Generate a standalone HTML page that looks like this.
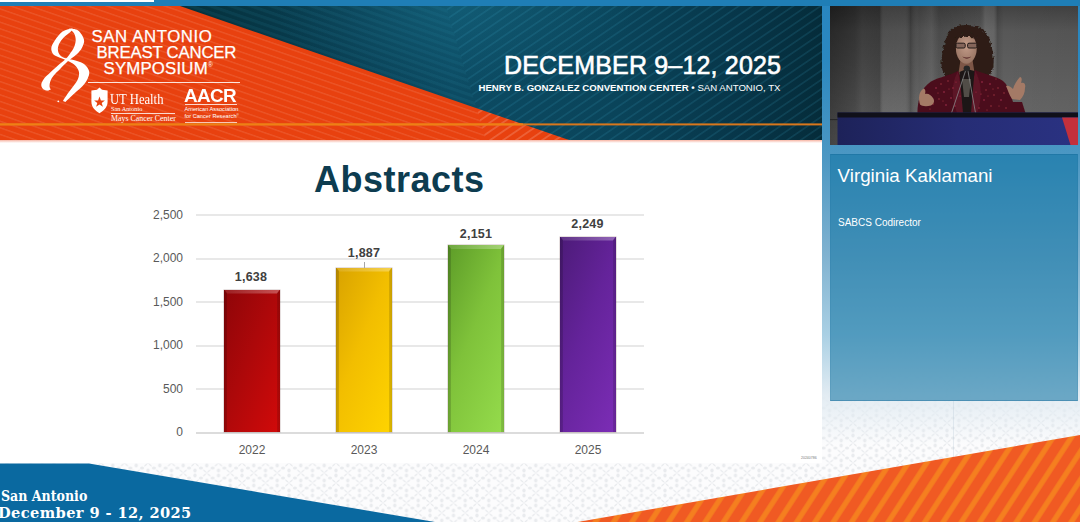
<!DOCTYPE html>
<html lang="en">
<head>
<meta charset="utf-8">
<title>SABCS 2025 - Abstracts</title>
<style>
*{margin:0;padding:0;box-sizing:border-box}
html,body{width:1080px;height:522px;overflow:hidden;background:#fff}
body{font-family:"Liberation Sans",Arial,sans-serif;position:relative}
#stage{position:absolute;left:0;top:0;width:1080px;height:522px;overflow:hidden;background:#fcfcfd}
.abs{position:absolute}
/* page background pattern */
#pattern{left:0;top:0;width:1080px;height:522px}
/* sidebar gradient */
#sidegrad{left:822px;top:0;width:258px;height:470px;
  background:linear-gradient(to bottom,#2886c0 0px,#2b88c0 60px,#4d98c3 160px,#80b2d0 255px,#aad0e4 335px,rgba(225,235,242,.95) 395px,rgba(252,252,253,0) 445px)}
#topbar{left:0;top:0;width:1080px;height:6px;background:#1f7eb6}
#topwhite{left:0;top:0;width:153.5px;height:1.5px;background:#fff}
/* slide */
#slide{left:0;top:6px;width:822px;height:457px;background:#fff}
#banner{left:0;top:0;width:822px;height:134px;overflow:hidden;background:#0a3a4c}
#bannerglow{left:0;top:134px;width:822px;height:3px;background:linear-gradient(to bottom,rgba(240,120,90,.55),rgba(255,255,255,0))}
.w{color:#fff;white-space:nowrap;line-height:1}

.lg{font-size:16.8px;letter-spacing:.2px;-webkit-text-stroke:.25px #fff}
.sf{font-family:"Liberation Serif","DejaVu Serif",serif}
/* chart */
.yl{position:absolute;width:60px;text-align:right;font-size:12px;color:#595959;line-height:12px;white-space:nowrap}
.xl{position:absolute;width:60px;text-align:center;font-size:12px;color:#595959;line-height:12px}
.vl{position:absolute;width:60px;text-align:center;font-size:12.5px;letter-spacing:.2px;font-weight:bold;color:#404040;line-height:12px}
.grid{position:absolute;left:196px;width:448px;height:1.6px;margin-top:.2px;background:#e8e8e8}
.bar{position:absolute;width:56px}

.bar{box-shadow:0 0 0 .5px rgba(60,0,0,.25)}
.bar:before{content:"";position:absolute;left:0;top:0;right:0;height:4px;clip-path:polygon(0 0,100% 0,calc(100% - 3px) 100%,3px 100%);background:linear-gradient(to right,rgba(255,255,255,.10),rgba(255,255,255,.30))}
.bar:after{content:"";position:absolute;left:0;top:0;bottom:0;right:0;background:linear-gradient(to right,rgba(0,0,0,.20) 0,rgba(0,0,0,.14) 3px,rgba(0,0,0,0) 3.5px,rgba(0,0,0,0) calc(100% - 3.5px),rgba(0,0,0,.12) calc(100% - 3px),rgba(0,0,0,.18) 100%);clip-path:polygon(0 0,3.5px 4px,calc(100% - 3.5px) 4px,100% 0,100% 100%,0 100%)}
.b1{background:linear-gradient(112deg,#8e0508 0%,#ac080a 45%,#d20a0a 100%)}
.b2{background:linear-gradient(112deg,#d8a200 0%,#f2be00 45%,#ffd400 100%)}
.b3{background:linear-gradient(112deg,#5d9c28 0%,#7fc23a 45%,#95dc4c 100%)}
.b4{background:linear-gradient(112deg,#4c1b78 0%,#64239a 45%,#7c2db6 100%)}
/* video + panel */
#video{left:830px;top:6px;width:248px;height:139px;overflow:hidden;background:#4c4c4c}
#panel{left:830px;top:154px;width:248px;height:247px;background:rgba(17,116,163,.577);border:1px solid rgba(17,100,150,.35);border-left-color:rgba(17,100,150,.12);border-right-color:rgba(17,100,150,.12)}
#pname{left:837.6px;top:167px;font-size:18.75px}
#prole{left:838px;top:217.8px;font-size:10px}
/* bottom */
#bl1{left:1px;top:488.8px;font-family:"DejaVu Serif Condensed","DejaVu Serif","Liberation Serif",serif;font-weight:bold;font-size:14px}
#bl2{left:-2px;top:506.3px;font-family:"DejaVu Serif","Liberation Serif",serif;font-weight:bold;font-size:14.6px;letter-spacing:.4px}
</style>
</head>
<body>
<div id="stage">
  <svg id="pattern" class="abs" width="1080" height="522" viewBox="0 0 1080 522">
    <defs>
      <pattern id="dmk" width="23.5" height="20" patternUnits="userSpaceOnUse" patternTransform="translate(7 3)">
        <rect width="23.5" height="20" fill="#fcfcfd"/>
        <g fill="#e9ebee">
          <path d="M0 0 C-.9 -2 -2.8 -3.6 -3.8 -3.4 C-4 -2.4 -2.2 -.8 0 0 C2.2 -.8 4 -2.4 3.8 -3.4 C2.8 -3.6 .9 -2 0 0 C-.9 2 -2.8 3.6 -3.8 3.4 C-4 2.4 -2.2 .8 0 0 C2.2 .8 4 2.4 3.8 3.4 C2.8 3.6 .9 2 0 0Z"/>
          <path transform="translate(23.5 0)" d="M0 0 C-.9 -2 -2.8 -3.6 -3.8 -3.4 C-4 -2.4 -2.2 -.8 0 0 C2.2 -.8 4 -2.4 3.8 -3.4 C2.8 -3.6 .9 -2 0 0 C-.9 2 -2.8 3.6 -3.8 3.4 C-4 2.4 -2.2 .8 0 0 C2.2 .8 4 2.4 3.8 3.4 C2.8 3.6 .9 2 0 0Z"/><path transform="translate(0 20)" d="M0 0 C-.9 -2 -2.8 -3.6 -3.8 -3.4 C-4 -2.4 -2.2 -.8 0 0 C2.2 -.8 4 -2.4 3.8 -3.4 C2.8 -3.6 .9 -2 0 0 C-.9 2 -2.8 3.6 -3.8 3.4 C-4 2.4 -2.2 .8 0 0 C2.2 .8 4 2.4 3.8 3.4 C2.8 3.6 .9 2 0 0Z"/><path transform="translate(23.5 20)" d="M0 0 C-.9 -2 -2.8 -3.6 -3.8 -3.4 C-4 -2.4 -2.2 -.8 0 0 C2.2 -.8 4 -2.4 3.8 -3.4 C2.8 -3.6 .9 -2 0 0 C-.9 2 -2.8 3.6 -3.8 3.4 C-4 2.4 -2.2 .8 0 0 C2.2 .8 4 2.4 3.8 3.4 C2.8 3.6 .9 2 0 0Z"/><path transform="translate(11.75 10)" d="M0 0 C-.9 -2 -2.8 -3.6 -3.8 -3.4 C-4 -2.4 -2.2 -.8 0 0 C2.2 -.8 4 -2.4 3.8 -3.4 C2.8 -3.6 .9 -2 0 0 C-.9 2 -2.8 3.6 -3.8 3.4 C-4 2.4 -2.2 .8 0 0 C2.2 .8 4 2.4 3.8 3.4 C2.8 3.6 .9 2 0 0Z"/>
          <ellipse cx="11.75" cy="2.6" rx="1.6" ry="2"/><ellipse cx="11.75" cy="17.4" rx="1.6" ry="2"/>
          <ellipse cx="0" cy="12.6" rx="1.6" ry="2"/><ellipse cx="23.5" cy="12.6" rx="1.6" ry="2"/><ellipse cx="0" cy="7.4" rx="1.6" ry="2"/><ellipse cx="23.5" cy="7.4" rx="1.6" ry="2"/>
          <ellipse cx="5.9" cy="5" rx="2" ry="1.5"/><ellipse cx="17.6" cy="5" rx="2" ry="1.5"/><ellipse cx="5.9" cy="15" rx="2" ry="1.5"/><ellipse cx="17.6" cy="15" rx="2" ry="1.5"/>
        </g>
      </pattern>
      <filter id="pblur" x="0" y="0" width="100%" height="100%"><feGaussianBlur stdDeviation=".55"/></filter>
    </defs>
    <rect width="1080" height="522" fill="url(#dmk)" filter="url(#pblur)"/>
  </svg>
  <div id="sidegrad" class="abs"></div>
  <div class="abs" style="left:953px;top:401px;width:1px;height:60px;background:rgba(150,175,195,.2)"></div>
  <div id="topbar" class="abs"></div>
  <div id="topwhite" class="abs"></div>

  <div id="slide" class="abs">
    <div id="banner" class="abs">
      <svg class="abs" style="left:0;top:0" width="822" height="134" viewBox="0 6 822 134">
        <defs>
          <linearGradient id="tealg" x1="0" y1="0" x2="1" y2="0">
            <stop offset="0" stop-color="#04303c"/><stop offset=".24" stop-color="#05323e"/><stop offset=".42" stop-color="#093e52"/><stop offset=".55" stop-color="#0c4b63"/><stop offset=".75" stop-color="#0a445a"/><stop offset=".9" stop-color="#073649"/><stop offset="1" stop-color="#052c3a"/>
          </linearGradient>
          <radialGradient id="tealglow" cx="455" cy="6" r="120" gradientUnits="userSpaceOnUse" gradientTransform="translate(455 6) scale(1.5 .7) translate(-455 -6)">
            <stop offset="0" stop-color="#1b7792" stop-opacity=".36"/><stop offset="1" stop-color="#1b7792" stop-opacity="0"/>
          </radialGradient>
          <pattern id="tl" width="60" height="7.7" patternUnits="userSpaceOnUse" patternTransform="matrix(1 .343 .3 1 444 1.5)">
            <rect x="0" y="0" width="60" height="3.6" fill="#2b90b0" fill-opacity=".11"/>
          </pattern>
          <pattern id="tr" width="60" height="7.7" patternUnits="userSpaceOnUse" patternTransform="matrix(1 -.68 .3 1 444 1.5)">
            <rect x="0" y="0" width="60" height="1.7" fill="#3aa6c6" fill-opacity=".15"/>
          </pattern>
          <pattern id="ol" width="60" height="7.36" patternUnits="userSpaceOnUse" patternTransform="matrix(1 .343 .3 1 444 2)">
            <rect x="0" y="0" width="60" height="1.6" fill="#fff" fill-opacity=".10"/>
          </pattern>
          <pattern id="or" width="60" height="7.36" patternUnits="userSpaceOnUse" patternTransform="matrix(1 -.68 .3 1 444 2)">
            <rect x="0" y="0" width="60" height="1.8" fill="#fff" fill-opacity=".17"/>
          </pattern>
          <clipPath id="oclip"><polygon points="0,6 180,6 569,140 0,140"/></clipPath>
        </defs>
        <rect x="0" y="6" width="822" height="134" fill="url(#tealg)"/>
        <rect x="0" y="6" width="822" height="134" fill="url(#tealglow)"/>
        <polygon points="0,6 445.8,6 486,140 0,140" fill="url(#tl)"/>
        <polygon points="445.8,6 822,6 822,140 486,140" fill="url(#tr)"/>
        <g clip-path="url(#oclip)">
          <rect x="0" y="6" width="600" height="134" fill="#e8410f"/>
          <polygon points="0,6 445.8,6 486,140 0,140" fill="url(#ol)"/>
          <polygon points="445.8,6 822,6 822,140 486,140" fill="url(#or)"/>
        </g>
        <rect x="0" y="123.4" width="822" height="2" fill="#d9771c"/>
        <rect x="0" y="123.4" width="523" height="2" fill="#f07f14"/>
      </svg>
    </div>

    <!-- banner text / logos (coords relative to slide: page y - 6) -->
    <svg class="abs" style="left:36px;top:18px" width="60" height="84" viewBox="36 24 60 84">
      <g fill="#fff">
        <path d="M72.7 28.2 C71.0 28.7 65.6 29.4 62.5 31.6 C59.5 33.7 56.4 38.1 54.5 40.9 C52.6 43.7 51.5 45.9 51.3 48.1 C51.1 50.4 51.9 52.7 53.2 54.2 C54.6 55.8 57.2 56.5 59.3 57.5 C61.5 58.4 64.0 59.2 66.2 60.2 C68.5 61.2 70.8 62.2 72.7 63.6 C74.6 64.9 76.4 66.7 77.5 68.4 C78.6 70.1 79.1 71.6 79.1 73.5 C79.1 75.5 78.6 77.7 77.5 80.0 C76.4 82.2 74.4 84.7 72.7 87.1 C71.0 89.4 69.0 91.8 67.4 94.1 C65.8 96.4 63.7 99.8 63.0 100.9 L65.4 101.9 C67.0 100.4 71.7 96.0 74.6 93.3 C77.5 90.7 80.5 88.5 82.6 86.1 C84.8 83.7 86.4 81.4 87.5 79.0 C88.6 76.6 89.7 74.0 89.2 71.6 C88.8 69.2 86.7 66.4 84.6 64.5 C82.4 62.7 79.3 61.7 76.2 60.7 C73.1 59.6 68.4 59.2 65.8 58.3 C63.1 57.3 61.4 56.6 60.1 55.2 C58.8 53.8 58.0 51.7 57.9 49.7 C57.7 47.8 58.4 45.7 59.3 43.6 C60.3 41.6 61.8 39.5 63.7 37.5 C65.5 35.5 69.1 33.3 70.6 31.7 C72.1 30.2 72.3 28.8 72.7 28.2Z"/>
        <path d="M69.0 28.5 C70.5 28.8 75.6 28.6 78.1 30.4 C80.6 32.2 83.2 36.6 83.9 39.3 C84.7 42.0 83.5 44.3 82.6 46.5 C81.8 48.7 80.2 50.7 78.6 52.5 C77.0 54.3 74.8 55.8 73.0 57.3 C71.1 58.8 69.7 59.7 67.5 61.6 C65.4 63.6 62.4 66.7 60.1 69.0 C57.8 71.3 55.3 73.5 53.7 75.5 C52.1 77.5 51.2 79.2 50.5 80.9 C49.8 82.7 49.5 84.5 49.5 85.9 C49.6 87.4 50.6 89.0 50.8 89.6 L50.8 89.6 C50.2 89.8 48.6 90.8 47.3 90.6 C45.9 90.4 43.7 89.7 42.8 88.7 C41.8 87.6 41.1 86.0 41.3 84.3 C41.5 82.7 42.5 80.7 44.0 78.7 C45.6 76.7 48.1 74.5 50.5 72.3 C52.8 70.0 55.8 67.2 58.2 65.2 C60.6 63.1 62.7 61.9 64.6 60.0 C66.6 58.2 68.2 56.0 69.8 53.9 C71.3 51.8 73.0 49.6 74.0 47.3 C75.0 45.0 75.7 42.4 75.7 40.1 C75.7 37.8 75.1 35.3 74.0 33.3 C72.8 31.4 69.8 29.3 69.0 28.5Z"/>
        <circle cx="58.3" cy="101.3" r=".9"/>
      </g>
    </svg>
    <div class="abs w lg" style="left:91.5px;top:22.5px;letter-spacing:.6px">SAN ANTONIO</div>
    <div class="abs w lg" style="left:96.5px;top:38.8px;letter-spacing:-.2px">BREAST CANCER</div>
    <div class="abs w lg" style="left:103.5px;top:55px">SYMPOSIUM<span style="font-size:6.5px;vertical-align:7px;letter-spacing:0;-webkit-text-stroke:0">&#174;</span></div>
    <div class="abs" style="left:88px;top:75.7px;width:152px;height:.7px;background:rgba(255,255,255,.85)"></div>
    <!-- UT Health -->
    <svg class="abs" style="left:90px;top:81px" width="19" height="27" viewBox="0 0 19 27">
      <path d="M9.5 .6 L12 2.8 L17.6 3.6 L17.6 14.5 C17.6 20.5 13.5 24 9.5 26.2 C5.5 24 1.4 20.5 1.4 14.5 L1.4 3.6 L7 2.8 Z" fill="#fff"/>
      <path d="M9.5 9.6 L10.9 13.4 L14.9 13.5 L11.7 15.9 L12.9 19.8 L9.5 17.5 L6.1 19.8 L7.3 15.9 L4.1 13.5 L8.1 13.4 Z" fill="#e8420f"/>
    </svg>
    <div class="abs w sf" style="left:110px;top:85px;font-size:15.5px;transform:scaleX(.815);transform-origin:0 0">UT Health</div>
    <div class="abs w sf" style="left:111px;top:100.2px;font-size:6.3px">San Antonio</div>
    <div class="abs" style="left:111px;top:106.8px;width:64px;height:.6px;background:rgba(255,255,255,.8)"></div>
    <div class="abs w sf" style="left:111px;top:108.8px;font-size:7.9px">Mays Cancer Center</div>
    <!-- AACR -->
    <div class="abs w" style="left:184px;top:81.5px;font-size:17.5px;font-weight:bold;letter-spacing:-.6px;transform:scaleX(1.08);transform-origin:0 0">AACR</div>
    <div class="abs" style="left:184.5px;top:98.2px;width:52px;height:.6px;background:rgba(255,255,255,.8)"></div>
    <div class="abs w" style="left:184.5px;top:101px;font-size:5.65px;line-height:5.6px">American Association<br>for Cancer Research<span style="font-size:3px;vertical-align:2px">&#174;</span></div>
    <div class="abs" style="left:184.5px;top:115.8px;width:52px;height:.6px;background:rgba(255,255,255,.7)"></div>
    <!-- date -->
    <div id="bdate" class="abs w" style="left:504px;top:46.8px;font-size:25px;letter-spacing:.18px;-webkit-text-stroke:.6px #fff">DECEMBER 9&#8211;12, 2025</div>
    <div id="bvenue" class="abs w" style="left:478.5px;top:76.6px;font-size:9.65px"><b>HENRY B. GONZALEZ CONVENTION CENTER &#8226;</b> SAN ANTONIO, TX</div>
    <div id="bannerglow" class="abs"></div>

    <!-- chart (coords are page coords minus slide top 6) -->
    <div id="title" class="abs" style="left:314px;top:156px;font-size:36px;letter-spacing:.5px;font-weight:bold;color:#0d3c50;line-height:36px;white-space:nowrap">Abstracts</div>
    <div id="chart" class="abs" style="left:0;top:-6px;width:822px;height:470px">
      <div class="grid" style="top:214px"></div>
      <div class="grid" style="top:258px"></div>
      <div class="grid" style="top:301px"></div>
      <div class="grid" style="top:345px"></div>
      <div class="grid" style="top:388px"></div>
      <div class="grid" style="top:432px;background:#dcdcdc"></div>
      <div class="yl" style="left:123px;top:209px">2,500</div>
      <div class="yl" style="left:123px;top:252px">2,000</div>
      <div class="yl" style="left:123px;top:296px">1,500</div>
      <div class="yl" style="left:123px;top:339px">1,000</div>
      <div class="yl" style="left:123px;top:383px">500</div>
      <div class="yl" style="left:123px;top:426px">0</div>
      <div class="bar b1" style="left:224px;top:289.5px;height:142.5px"></div>
      <div class="bar b2" style="left:336px;top:267.5px;height:164.5px"></div>
      <div class="bar b3" style="left:448px;top:245px;height:187px"></div>
      <div class="bar b4" style="left:560px;top:236.5px;height:195.5px"></div>
      <div class="abs" style="left:363.5px;top:262px;width:1px;height:6px;background:#a6a6a6"></div>
      <div class="vl" style="left:221px;top:271px">1,638</div>
      <div class="vl" style="left:334px;top:247px">1,887</div>
      <div class="vl" style="left:446px;top:228px">2,151</div>
      <div class="vl" style="left:557.5px;top:218px">2,249</div>
      <div class="xl" style="left:222px;top:444px">2022</div>
      <div class="xl" style="left:334px;top:444px">2023</div>
      <div class="xl" style="left:446px;top:444px">2024</div>
      <div class="xl" style="left:558px;top:444px">2025</div>
      <div class="abs" style="left:801px;top:456px;font-size:3.5px;color:#777;line-height:4px;white-space:nowrap">20240786</div>
    </div>
  </div>

  <div id="video" class="abs">
    <svg width="248" height="139" viewBox="830 6 248 139">
      <defs>
        <linearGradient id="cv" x1="0" y1="0" x2="0" y2="1">
          <stop offset="0" stop-color="#424242"/><stop offset=".18" stop-color="#575757"/><stop offset=".7" stop-color="#646464"/><stop offset="1" stop-color="#6a6a6a"/>
        </linearGradient>
        <linearGradient id="ch" x1="0" y1="0" x2="1" y2="0">
          <stop offset="0" stop-color="#000" stop-opacity=".34"/>
          <stop offset=".10" stop-color="#000" stop-opacity=".20"/>
          <stop offset=".13" stop-color="#000" stop-opacity=".08"/>
          <stop offset=".20" stop-color="#000" stop-opacity=".16"/>
          <stop offset=".215" stop-color="#fff" stop-opacity=".08"/>
          <stop offset=".30" stop-color="#fff" stop-opacity=".06"/>
          <stop offset=".325" stop-color="#000" stop-opacity=".14"/>
          <stop offset=".36" stop-color="#fff" stop-opacity=".02"/>
          <stop offset=".41" stop-color="#fff" stop-opacity=".07"/>
          <stop offset=".44" stop-color="#000" stop-opacity=".06"/>
          <stop offset=".60" stop-color="#000" stop-opacity=".02"/>
          <stop offset=".625" stop-color="#fff" stop-opacity=".10"/>
          <stop offset=".66" stop-color="#fff" stop-opacity=".08"/>
          <stop offset=".675" stop-color="#000" stop-opacity=".12"/>
          <stop offset=".70" stop-color="#000" stop-opacity=".0"/>
          <stop offset="1" stop-color="#000" stop-opacity=".04"/>
        </linearGradient>
        <radialGradient id="vig" cx="830" cy="6" r="150" gradientUnits="userSpaceOnUse">
          <stop offset="0" stop-color="#000" stop-opacity=".35"/><stop offset="1" stop-color="#000" stop-opacity="0"/>
        </radialGradient>
        <linearGradient id="lec" x1="0" y1="0" x2="1" y2="0">
          <stop offset="0" stop-color="#1d2259"/><stop offset=".5" stop-color="#262d75"/><stop offset="1" stop-color="#2a3282"/>
        </linearGradient>
        <radialGradient id="skin" cx=".5" cy=".4" r=".65">
          <stop offset="0" stop-color="#c39c89"/><stop offset="1" stop-color="#94705f"/>
        </radialGradient>
        <filter id="curl" x="-10%" y="-10%" width="120%" height="120%">
          <feTurbulence type="fractalNoise" baseFrequency=".35" numOctaves="2" seed="4" result="n"/>
          <feDisplacementMap in="SourceGraphic" in2="n" scale="4.5" xChannelSelector="R" yChannelSelector="G"/>
        </filter>
        <filter id="soft" x="-2%" y="-2%" width="104%" height="104%"><feGaussianBlur stdDeviation=".45"/></filter>
      </defs>
      <rect x="830" y="6" width="248" height="139" fill="url(#cv)"/>
      <rect x="830" y="6" width="248" height="139" fill="url(#ch)"/>
      <rect x="830" y="6" width="248" height="139" fill="url(#vig)"/>
      <g filter="url(#soft)">
      <!-- hair -->
      <path filter="url(#curl)" d="M966 25 C956 24.5 948 30 945.5 40 C943 48 941 57 941.5 65 C942 72 945 77 951 78 L982 78 C989 78 992.5 73 993.5 66 C994.5 57 992.5 48 990 40 C987.5 30 977 24.5 966 25Z" fill="#2d1f19"/>
      <!-- neck -->
      <path d="M960.5 60 L972.5 60 L975 76 L958 76Z" fill="#7d5746"/>
      <!-- face -->
      <ellipse cx="966.3" cy="48.6" rx="10.4" ry="15.2" fill="url(#skin)"/>
      <path filter="url(#curl)" d="M954 40 C956 31 976 30 979 40 C974 35.5 959 35.5 954 40Z" fill="#2d1f19"/>
      <!-- glasses -->
      <rect x="956" y="43.2" width="9.2" height="4.8" rx="1.4" fill="#84655a" stroke="#231a18" stroke-width="1"/>
      <rect x="967.6" y="43.2" width="9.2" height="4.8" rx="1.4" fill="#84655a" stroke="#231a18" stroke-width="1"/>
      <path d="M962.3 56.6 C965 57.8 968.5 57.8 971.2 56.6 C968.8 59.4 964.8 59.4 962.3 56.6Z" fill="#5c2e2c"/>
      <!-- jacket -->
      <path d="M917.5 113 C917.5 100 921 88 931 81.5 C939 77 950 75.5 958 71 L966 88 L975 70 C984 74 996 76 1003 81 C1009 86 1011 96 1013 102 L1022 102 L1025.5 113Z" fill="#4c0e1c"/>
      <path d="M958 71 L966 113 L957 113 C952 100 950 85 958 71Z" fill="#5c1325"/>
      <path d="M975 70 C983 84 982 100 977 113 L968 113Z" fill="#5c1325"/>
      <!-- inner black top -->
      <path d="M959.5 72 L966.5 69 L974.5 71 L971 113 L963 113Z" fill="#1a1717"/>
      <path d="M962 79 L971 79 L969 97 L964 97Z" fill="#6e6a60" opacity=".65"/>
      <!-- sparkles -->
      <g fill="#c4405a" opacity=".75">
        <circle cx="936" cy="88" r=".8"/><circle cx="941" cy="84" r=".7"/><circle cx="944" cy="92" r=".8"/><circle cx="948" cy="81" r=".7"/><circle cx="951" cy="98" r=".8"/>
        <circle cx="953" cy="88" r=".7"/><circle cx="939" cy="99" r=".7"/><circle cx="946" cy="105" r=".8"/><circle cx="955" cy="106" r=".7"/><circle cx="933" cy="104" r=".7"/>
        <circle cx="982" cy="82" r=".8"/><circle cx="986" cy="90" r=".7"/><circle cx="990" cy="84" r=".8"/><circle cx="994" cy="95" r=".7"/><circle cx="984" cy="100" r=".8"/>
        <circle cx="991" cy="106" r=".7"/><circle cx="998" cy="88" r=".7"/><circle cx="1001" cy="100" r=".8"/><circle cx="979" cy="108" r=".7"/><circle cx="1006" cy="108" r=".7"/>
        <circle cx="928" cy="95" r=".7"/><circle cx="960" cy="96" r=".6"/><circle cx="976" cy="92" r=".6"/><circle cx="1004" cy="93" r=".7"/><circle cx="996" cy="79" r=".6"/>
        <circle cx="938" cy="93" r=".6"/><circle cx="949" cy="89" r=".6"/><circle cx="943" cy="101" r=".6"/><circle cx="956" cy="82" r=".6"/><circle cx="930" cy="109" r=".6"/>
        <circle cx="988" cy="96" r=".6"/><circle cx="993" cy="89" r=".6"/><circle cx="981" cy="94" r=".6"/><circle cx="999" cy="106" r=".6"/><circle cx="987" cy="110" r=".6"/>
      </g>
      <!-- hands -->
      <path d="M920 104.5 C918 98 919 92 923 89 C925 88 926 91 925 94 C928 93 931 95 933 98 C935 101 934 104 931 105.5 C927 106.5 922 106.5 920 104.5Z" fill="#a47a66"/>
      <path d="M1012 99 C1009 95 1008 90 1006 86 C1008 85 1011 87 1013 89 C1014 85 1017 80 1020 77 C1022 77 1022 80 1021 83 C1024 82 1026 84 1025 88 C1025 93 1023 97 1020 100Z" fill="#a47a66"/>
      <!-- microphone -->
      <path d="M965.5 71 L951.5 113 M968 71 L975.5 113" stroke="#8a8a8a" stroke-width=".8" fill="none"/>
      <ellipse cx="966.8" cy="68.5" rx="3.2" ry="2.9" fill="#262626"/>
      </g>
      <!-- lectern -->
      <rect x="830" y="119.2" width="8" height=".9" fill="#222"/>
      <rect x="837.5" y="112.5" width="241" height="33" fill="url(#lec)"/>
      <rect x="837.5" y="112.5" width="241" height="5" fill="#10101a"/>
      <polygon points="1062,117.5 1078,117.5 1078,145 1070.5,145" fill="#c4303c"/>
    </svg>
  </div>
  <div id="panel" class="abs"></div>
  <div id="pname" class="abs w">Virginia Kaklamani</div>
  <div id="prole" class="abs w">SABCS Codirector</div>

  <svg class="abs" style="left:0;top:0" width="1080" height="522" viewBox="0 0 1080 522">
    <defs>
      <pattern id="stripes" width="15.35" height="40" patternUnits="userSpaceOnUse" patternTransform="translate(943.2 522) rotate(33)">
        <rect x="0" y="0" width="15.35" height="40" fill="#f05a23"/>
        <rect x="0" y="0" width="2.6" height="40" fill="#f57f1f"/>
        <rect x="12.75" y="0" width="2.6" height="40" fill="#f57f1f"/>
      </pattern>
    </defs>
    <polygon points="577.5,522 1080,434.9 1080,522" fill="url(#stripes)"/>
    <polygon points="0,463.5 89,463.5 435,522 0,522" fill="#0a69a0"/>
  </svg>
  <div id="bl1" class="abs w">San Antonio</div>
  <div id="bl2" class="abs w">December 9 - 12, 2025</div>
</div>
</body>
</html>
